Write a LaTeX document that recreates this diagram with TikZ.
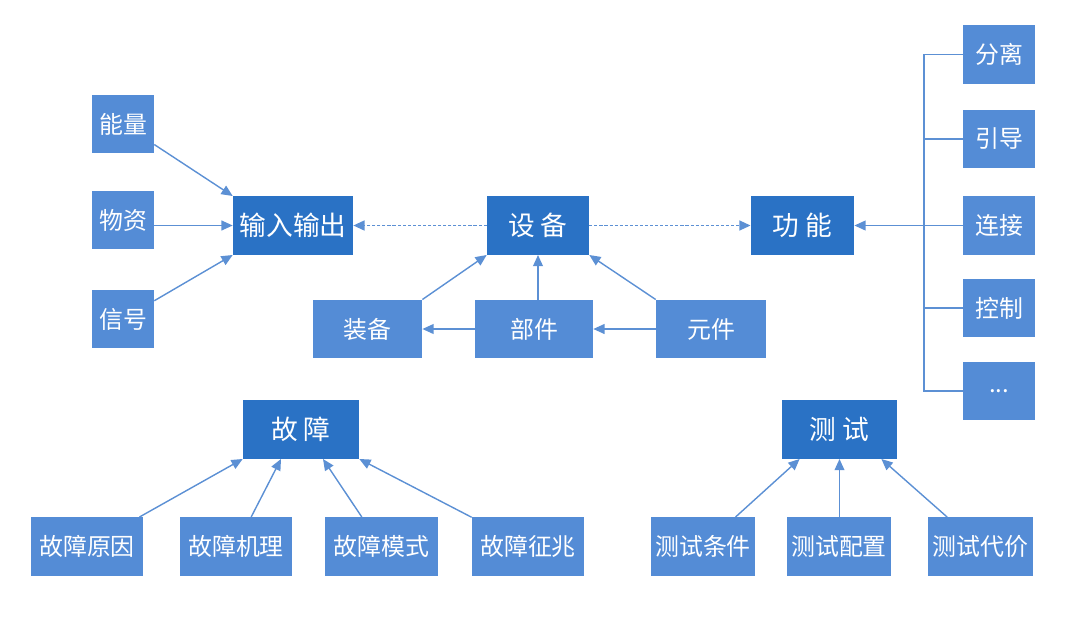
\documentclass[tikz,border=0pt]{standalone}
\usepackage{fontspec}
\newfontfamily\cjk{Noto Sans CJK SC}
\usetikzlibrary{arrows.meta}
\definecolor{darkblue}{RGB}{42,114,197}
\definecolor{lightblue}{RGB}{84,140,214}
\definecolor{linkblue}{RGB}{92,144,212}

\begin{document}
\begin{tikzpicture}[x=0.025cm, y=-0.025cm, >={Triangle[length=8pt,width=7pt]}]
			\tikzstyle{box} = [fill=lightblue, text=white, inner sep=0pt, minimum height=1.46cm, font=\cjk\fontsize{17}{20}\selectfont]
			\tikzstyle{hub} = [box, fill=darkblue, font=\cjk\fontsize{19}{22}\selectfont]
			\tikzstyle{link} = [->, linkblue, line width=1pt]
			\tikzstyle{dotlink} = [link, line width=1.4pt, dash pattern=on 2.2pt off 1.4pt]
			\tikzstyle{busline} = [linkblue, line width=1pt]

			\useasboundingbox (0,0) rectangle (1080,619);

			% top row
			\path
			node[box, minimum width=1.55cm] (nl) at (123,124) {能量}
			node[box, minimum width=1.55cm] (wz) at (123,220) {物资}
			node[box, minimum width=1.55cm] (xh) at (123,319) {信号}
			node[hub, minimum width=3.0cm] (io) at (293,225.5) {输入输出}
			node[hub, minimum width=2.55cm] (sb) at (538,225.5) {设 备}
			node[hub, minimum width=2.58cm] (gn) at (802.5,225.5) {功 能}
			node[box, minimum width=2.73cm] (zb) at (367.5,329) {装备}
			node[box, minimum width=2.95cm] (bj) at (534,329) {部件}
			node[box, minimum width=2.75cm] (yj) at (711,329) {元件}

			(nl) edge[link] (io.north west)
			(wz.east |- io) edge[link] (io.west)
			(xh) edge[link] (io.south west)
			(sb) edge[dotlink] (io)
			(sb) edge[dotlink] (gn)
			(zb.north east) edge[link] (sb.south west)
			(sb.south |- bj.north) edge[link] (sb.south)
			(yj.north west) edge[link] (sb.south east)
			(bj) edge[link] (zb)
			(yj) edge[link] (bj)
			;

			% right column
			\path
			node[box, minimum width=1.8cm] (fl) at (999,54.5) {分离}
			node[box, minimum width=1.8cm] (yd) at (999,139) {引导}
			node[box, minimum width=1.8cm] (lj) at (999,225.5) {连接}
			node[box, minimum width=1.8cm] (ctl) at (999,308) {控制}
			node[box, minimum width=1.8cm] (etc) at (999,391) {...}

			(lj) edge[link] (gn)
			;
			\coordinate (bus) at (924,0);
			\draw[busline] (fl.west) -| (bus |- etc.west) -- (etc.west);
			\foreach \n in {yd, ctl}
				\draw[busline] (\n.west) -- (\n.west -| bus);

			% fault
			\path
			node[hub, minimum width=2.9cm] (gz) at (301,429.5) {故 障}
			node[box, minimum width=2.8cm] (gzyy) at (87,546.5) {故障原因}
			node[box, minimum width=2.8cm] (gzjl) at (236,546.5) {故障机理}
			node[box, minimum width=2.8cm] (gzms) at (381.5,546.5) {故障模式}
			node[box, minimum width=2.8cm] (gzzz) at (528,546.5) {故障征兆}

			(gzyy) edge[link] (gz.south west)
			(gzjl) edge[link] ([xshift=-0.5cm]gz.south)
			(gzms) edge[link] ([xshift=0.55cm]gz.south)
			(gzzz) edge[link] (gz.south east)
			;

			% test
			\path
			node[hub, minimum width=2.88cm] (cs) at (839.5,429.5) {测 试}
			node[box, minimum width=2.6cm] (cstj) at (703,546.5) {测试条件}
			node[box, minimum width=2.6cm] (cspz) at (839,546.5) {测试配置}
			node[box, minimum width=2.6cm] (csdj) at (980.5,546.5) {测试代价}

			(cstj) edge[link] ([xshift=0.45cm]cs.south west)
			(cspz.north -| cs) edge[link] (cs.south)
			(csdj) edge[link] ([xshift=-0.4cm]cs.south east)
			;
\end{tikzpicture}
\end{document}
